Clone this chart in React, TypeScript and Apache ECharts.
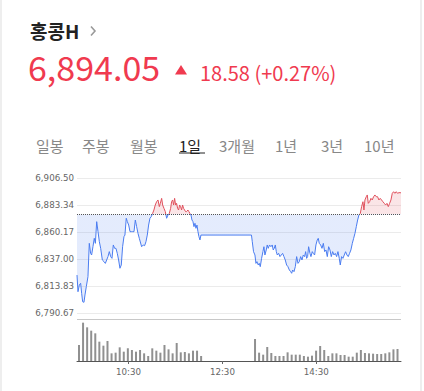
import React, { useEffect, useRef } from "react";
import * as echarts from "echarts";

// ---- Data (minutes after 09:30, index value) ----
const TITLE = "홍콩H";
const LAST_PRICE = "6,894.05";
const CHANGE_TEXT = "18.58 (+0.27%)";
const PREV_CLOSE = 6875.47;
const TABS = ["일봉", "주봉", "월봉", "1일", "3개월", "1년", "3년", "10년"];
const ACTIVE_TAB = "1일";
const Y_TICK_LABELS = ["6,790.67", "6,813.83", "6,837.00", "6,860.17", "6,883.34", "6,906.50"];
const Y_MIN = 6790.67;
const Y_MAX = 6906.5;
const X_TICK_LABELS = ["10:30", "12:30", "14:30"];

const PRICE_TIMES = [
  0, 1.2, 2.8, 4.4, 5.6, 6.8, 8.4, 9.6, 11.2, 13.2, 14.8, 16.4, 17.6, 19.2, 20.8, 22.1, 23.7, 25.3, 26.9, 28.5,
  30.5, 32.5, 34.1, 35.7, 37.3, 38.9, 40.5, 42.1, 43.7, 45.3, 46.9, 48.5, 50.1, 51.7, 53.3, 54.9, 56.5, 57.7,
  59.3, 60.6, 62.2, 63.8, 65.4, 67.0, 68.6, 70.2, 71.8, 73.4, 75.0, 77.8, 79.8, 81.4, 83.0, 84.6, 86.2, 87.8,
  89.4, 91.0, 92.6, 94.2, 95.9, 97.5, 99.1, 100.3, 101.9, 103.1, 104.7, 106.3, 107.9, 109.5, 111.1, 112.7,
  113.9, 115.1, 116.3, 117.5, 118.7, 119.9, 121.1, 122.3, 123.5, 124.7, 125.9, 127.1, 128.3, 129.5, 130.7,
  131.9, 133.5, 134.7, 135.9, 137.2, 138.4, 139.6, 140.8, 142.0, 143.2, 144.4, 145.6, 146.8, 148.0, 149.2,
  150, 210, 211.0, 212.5, 214.2, 215.4, 216.6, 218.2, 219.4, 220.6, 222.2, 223.8, 225.0, 226.2, 227.8, 229.0,
  230.2, 231.8, 233.4, 235.0, 236.2, 237.4, 238.7, 239.9, 241.1, 242.7, 244.3, 245.9, 247.5, 249.1, 250.7,
  252.3, 253.9, 255.6, 257.2, 258.4, 259.6, 261.2, 262.8, 264.4, 266.0, 267.6, 269.2, 270.8, 272.4, 274.0,
  275.2, 276.4, 277.6, 278.8, 280.4, 281.6, 283.2, 284.4, 286.0, 287.6, 289.2, 290.4, 291.6, 293.3, 294.9,
  296.5, 298.1, 299.7, 301.3, 302.9, 304.5, 306.1, 307.7, 309.3, 310.9, 312.5, 314.1, 315.7, 316.9, 318.5,
  320.1, 321.7, 323.3, 324.9, 326.5, 328.1, 329.7, 331.4, 333.0, 334.6, 336.2, 337.8, 339.4, 341.0, 342.6,
  344.2, 345.4, 346.6, 348.2, 349.4, 350.6, 352.2, 353.8, 355.4, 357.0, 358.6, 360.2, 361.8, 363.4, 365.0,
  366.6, 368.2, 369.9, 371.5, 373.1, 374.7, 376.3, 377.9, 379.5, 381.1, 382.7, 384.3, 385.9, 387.5, 390,
];
const PRICE_VALUES = [
  6823.5, 6809.2, 6814.9, 6816.4, 6807.8, 6800.6, 6800.1, 6806.4, 6813.5, 6822.1, 6850.7, 6842.1, 6840.7,
  6847.8, 6855.0, 6850.7, 6869.3, 6860.7, 6852.1, 6846.4, 6836.4, 6835.0, 6833.5, 6836.4, 6839.3, 6843.6,
  6839.3, 6837.8, 6849.3, 6846.4, 6846.4, 6842.1, 6836.4, 6829.3, 6832.1, 6847.8, 6856.4, 6857.8, 6872.2,
  6869.3, 6866.4, 6860.7, 6860.7, 6860.7, 6860.7, 6870.7, 6865.0, 6859.3, 6855.0, 6847.8, 6849.3, 6848.7,
  6852.1, 6857.8, 6866.4, 6872.2, 6873.6, 6876.4, 6879.3, 6883.6, 6886.5, 6887.9, 6882.2, 6885.0, 6889.3,
  6883.6, 6880.7, 6877.9, 6872.2, 6875.0, 6876.4, 6880.7, 6886.5, 6887.9, 6883.6, 6889.3, 6883.6, 6885.0,
  6880.7, 6879.3, 6883.6, 6882.2, 6879.3, 6883.6, 6880.7, 6879.3, 6877.9, 6877.9, 6879.3, 6877.9, 6876.4,
  6875.0, 6870.7, 6869.3, 6865.0, 6867.9, 6863.6, 6866.4, 6860.7, 6856.4, 6853.6, 6857.8, 6857.8, 6857.8,
  6852.1, 6843.5, 6840.7, 6833.5, 6835.0, 6832.1, 6833.5, 6830.7, 6837.8, 6843.6, 6847.8, 6840.7, 6845.0,
  6849.3, 6846.4, 6849.3, 6847.8, 6849.3, 6845.0, 6846.4, 6849.3, 6843.6, 6840.7, 6842.1, 6839.3, 6840.7,
  6842.1, 6839.3, 6836.4, 6832.1, 6830.7, 6827.8, 6826.4, 6825.0, 6827.8, 6826.4, 6830.7, 6839.3, 6833.5,
  6835.0, 6839.3, 6836.4, 6840.7, 6839.3, 6843.6, 6837.8, 6839.3, 6847.8, 6842.1, 6839.3, 6843.6, 6842.1,
  6840.7, 6849.3, 6853.6, 6855.0, 6850.7, 6849.3, 6846.4, 6850.7, 6843.6, 6845.0, 6839.3, 6847.8, 6845.0,
  6839.3, 6843.6, 6840.7, 6842.1, 6839.3, 6843.6, 6837.8, 6832.1, 6839.3, 6837.8, 6840.7, 6843.5, 6840.7,
  6839.3, 6842.1, 6845.0, 6850.7, 6855.0, 6859.3, 6865.0, 6870.7, 6875.0, 6876.4, 6882.2, 6886.4, 6879.3,
  6887.9, 6890.7, 6892.2, 6885.0, 6886.4, 6889.3, 6887.9, 6890.7, 6892.2, 6890.7, 6890.7, 6887.9, 6889.3,
  6887.9, 6886.4, 6885.0, 6883.6, 6885.0, 6882.2, 6885.0, 6887.9, 6893.6, 6895.0, 6893.6, 6895.0, 6893.6,
  6894.2, 6894.05,
];

// volume bars (relative units), morning and afternoon sessions
const VOL_AM_START = 2.4;
const VOL_PM_START = 214.3;
const VOL_STEP = 4.9;
const VOL_AM = [48, 115, 101, 91, 83, 58, 46, 60, 23, 25, 41, 28, 38, 33, 28, 33, 23, 15, 38, 31, 25, 48, 35, 23, 54, 26, 27, 23, 31, 31, 15];
const VOL_PM = [66, 25, 19, 42, 24, 15, 15, 15, 26, 19, 19, 19, 15, 13, 16, 31, 45, 33, 15, 23, 23, 18, 18, 13, 13, 25, 33, 24, 23, 22, 21, 21, 23, 26, 35, 36];

const RED = "#e0505c";
const BLUE = "#4a7cf0";
const NUM_RED = "#f03a4f";
const KR = '"Noto Sans CJK KR", "Noto Sans", sans-serif';
const AXIS_FONT = '"DejaVu Sans", sans-serif';

export default function App() {
  const ref = useRef<HTMLDivElement>(null);
  useEffect(() => {
    document.body.style.margin = "0";
    if (!ref.current) return;
    const chart = echarts.init(ref.current, undefined, { renderer: "svg" });

    const priceData = PRICE_TIMES.map((t, i) => [t, PRICE_VALUES[i]]);
    const volData: number[][] = [];
    VOL_AM.forEach((v, i) => volData.push([VOL_AM_START + i * VOL_STEP, v]));
    VOL_PM.forEach((v, i) => volData.push([VOL_PM_START + i * VOL_STEP, v]));

    const tabX = [36, 82, 130, 179, 219, 275, 321, 364];
    const graphic: any[] = [
      { type: "rect", shape: { x: 0, y: 0, width: 2, height: 391 }, style: { fill: "#eeeeee" } },
      { type: "rect", shape: { x: 420, y: 0, width: 2, height: 391 }, style: { fill: "#eeeeee" } },
      {
        type: "text",
        x: 30,
        y: 30,
        style: { text: TITLE, font: `bold 19px ${KR}`, fill: "#222", textAlign: "left", textVerticalAlign: "middle" },
      },
      {
        type: "polyline",
        shape: { points: [[91, 26.5], [95, 31], [91, 35.5]] },
        style: { stroke: "#9a9a9a", lineWidth: 1.6, fill: "none" },
      },
      {
        type: "text",
        x: 28,
        y: 66.5,
        style: { text: LAST_PRICE, font: `34px ${KR}`, fill: NUM_RED, textAlign: "left", textVerticalAlign: "middle" },
      },
      {
        type: "polygon",
        shape: { points: [[175, 74.5], [187, 74.5], [181, 65]] },
        style: { fill: NUM_RED },
      },
      {
        type: "text",
        x: 200,
        y: 72,
        style: { text: CHANGE_TEXT, font: `20px ${KR}`, fill: NUM_RED, textAlign: "left", textVerticalAlign: "middle" },
      },
    ];
    TABS.forEach((t, i) => {
      const active = t === ACTIVE_TAB;
      graphic.push({
        type: "text",
        x: tabX[i],
        y: 145.5,
        style: { text: t, font: `15px ${KR}`, fill: active ? "#222" : "#888", textAlign: "left", textVerticalAlign: "middle" },
      });
    });
    graphic.push({
      type: "line",
      shape: { x1: 179, y1: 153, x2: 205, y2: 153 },
      style: { stroke: "#222", lineWidth: 1 },
    });

    chart.setOption({
      animation: false,
      backgroundColor: "#ffffff",
      graphic,
      grid: [
        { left: 77, top: 178.3, width: 324, height: 135 },
        { left: 77, top: 319, width: 324, height: 42 },
        // grid used only for the time labels (10:30 .. 14:30)
        { left: 128.5, top: 319, width: 187.8, height: 42 },
      ],
      xAxis: [
        { type: "value", gridIndex: 0, min: 0, max: 390, show: false },
        {
          type: "value",
          gridIndex: 1,
          min: 0,
          max: 390,
          axisLine: { show: true, lineStyle: { color: "#555", width: 1 } },
          axisTick: { show: false },
          axisLabel: { show: false },
          splitLine: { show: false },
        },
        {
          // tick index axis: 0 -> 10:30, 1 -> 12:30, 2 -> 14:30
          type: "value",
          gridIndex: 2,
          min: 0,
          max: 2,
          interval: 1,
          axisLine: { show: false },
          axisTick: { show: true, length: 3, lineStyle: { color: "#666" } },
          axisLabel: {
            formatter: (v: number) => X_TICK_LABELS[Math.round(v)] ?? "",
            fontFamily: AXIS_FONT,
            fontSize: 8.7,
            color: "#666",
            margin: 6,
          },
          splitLine: { show: false },
        },
      ],
      yAxis: [
        {
          type: "value",
          gridIndex: 0,
          position: "right",
          min: Y_MIN,
          max: Y_MAX,
          show: false,
        },
        {
          // tick index axis: 0..5 -> Y_TICK_LABELS
          type: "value",
          gridIndex: 0,
          position: "left",
          min: 0,
          max: 5,
          interval: 1,
          axisLine: { show: false },
          axisTick: { show: false },
          axisLabel: {
            formatter: (v: number) => Y_TICK_LABELS[Math.round(v)] ?? "",
            fontFamily: AXIS_FONT,
            fontSize: 8.7,
            color: "#666",
            margin: 3,
          },
          splitLine: { show: true, lineStyle: { color: "#ebebeb", width: 1 } },
        },
        {
          type: "value",
          gridIndex: 1,
          min: 0,
          max: 126,
          interval: 126,
          axisLine: { show: false },
          axisTick: { show: false },
          axisLabel: { show: false },
          splitLine: { show: true, lineStyle: { color: "#c8c8c8", width: 1 } },
        },
        { type: "value", gridIndex: 2, min: 0, max: 1, show: false },
      ],
      visualMap: {
        type: "piecewise",
        show: false,
        seriesIndex: 0,
        dimension: 1,
        pieces: [
          { gt: PREV_CLOSE, lte: 100000, color: RED },
          { gt: 0, lte: PREV_CLOSE, color: BLUE },
        ],
      },
      series: [
        {
          type: "line",
          xAxisIndex: 0,
          yAxisIndex: 0,
          data: priceData,
          symbol: "none",
          showSymbol: false,
          lineStyle: { width: 1 },
          areaStyle: { origin: PREV_CLOSE, opacity: 0.15 },
          markLine: {
            silent: true,
            symbol: "none",
            label: { show: false },
            lineStyle: { color: "#555", type: [1, 1], width: 1 },
            data: [{ yAxis: PREV_CLOSE }],
          },
        },
        {
          type: "bar",
          xAxisIndex: 1,
          yAxisIndex: 2,
          data: volData,
          barWidth: 2,
          itemStyle: { color: "#909090" },
        },
      ],
    });
    return () => chart.dispose();
  }, []);
  return <div ref={ref} style={{ width: 424, height: 391 }} />;
}
